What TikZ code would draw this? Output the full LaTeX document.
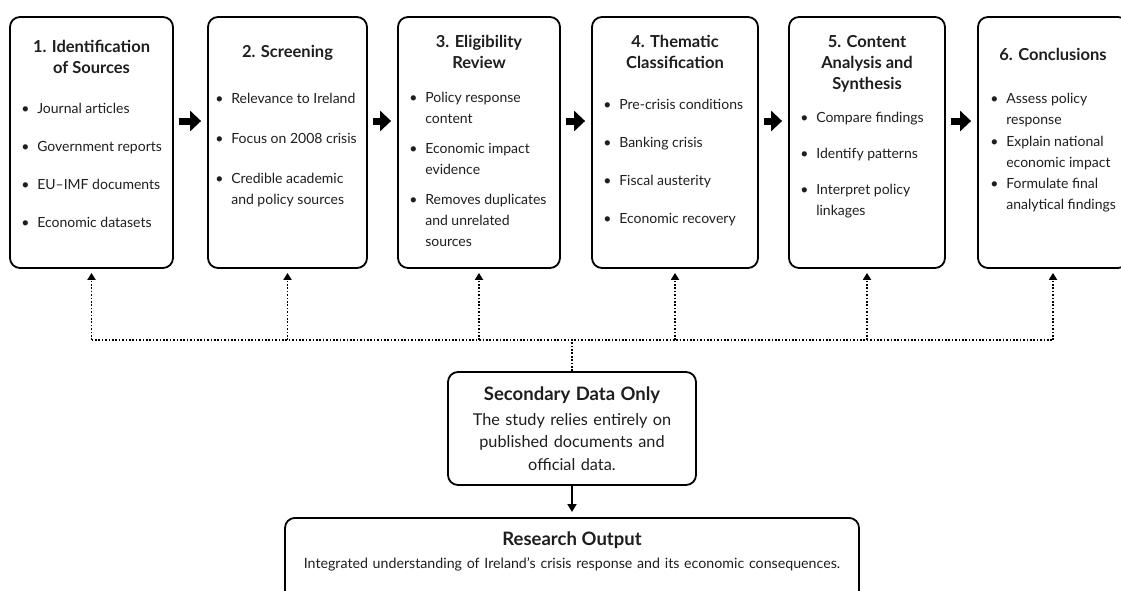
\documentclass[tikz,border=0pt]{standalone}
\usepackage{fontspec}
\setmainfont{Lato}
\usetikzlibrary{positioning,arrows.meta}

\definecolor{ink}{HTML}{1E1E1E}
\newcommand{\itm}{\makebox[16pt][l]{\textbullet}}

\tikzset{
  stage/.style={draw=black, line width=1.8pt, rounded corners=10pt, minimum height=251pt, inner sep=0pt},
  stagetitle/.style={font=\fontsize{16.5}{21}\selectfont\bfseries, align=center, inner sep=0pt, text=ink},
  stagelist/.style={font=\fontsize{14}{21}\selectfont, inner sep=0pt, text=ink},
  card/.style={draw=black, line width=1.8pt, rounded corners=10pt, inner sep=0pt},
  flow/.style={line width=7pt, -{Triangle[width=20pt,length=11pt]}},
  feed/.style={line width=1.7pt, dash pattern=on 1.7pt off 1.7pt},
}

\begin{document}
\begin{tikzpicture}[x=1pt,y=-1pt]
  \useasboundingbox (0,0) rectangle (1121,590);

  % six stages
  \foreach \n/\cx/\w in {1/91.5/163, 2/287.5/159, 3/479/162, 4/675/166, 5/867/156, 6/1053/150}
    \node[stage, minimum width=\w pt] (s\n) at (\cx,142.5) {};

  \node[stagetitle, below=24pt of s1.north] (h1) {1. Identification\\of Sources};
  \node[stagelist, anchor=north west] (l1) at ([xshift=12pt,yshift=-82pt]s1.north west) {%
    \begin{tabular}{@{}l@{}l@{}}
      \itm & Journal articles\\[17pt]
      \itm & Government reports\\[17pt]
      \itm & EU--IMF documents\\[17pt]
      \itm & Economic datasets
    \end{tabular}};

  \node[stagetitle, below=29pt of s2.north] (h2) {2. Screening};
  \node[stagelist, anchor=north west] (l2) at ([xshift=8pt,yshift=-72pt]s2.north west) {%
    \begin{tabular}{@{}l@{}l@{}}
      \itm & Relevance to Ireland\\[19pt]
      \itm & Focus on 2008 crisis\\[19pt]
      \itm & Credible academic\\
           & and policy sources
    \end{tabular}};

  \node[stagetitle, below=19pt of s3.north] (h3) {3. Eligibility\\Review};
  \node[stagelist, anchor=north west] (l3) at ([xshift=12pt,yshift=-71pt]s3.north west) {%
    \begin{tabular}{@{}l@{}l@{}}
      \itm & Policy response\\
           & content\\[9pt]
      \itm & Economic impact\\
           & evidence\\[9pt]
      \itm & Removes duplicates\\
           & and unrelated\\
           & sources
    \end{tabular}};

  \node[stagetitle, below=19pt of s4.north] (h4) {4. Thematic\\Classification};
  \node[stagelist, anchor=north west] (l4) at ([xshift=12pt,yshift=-78pt]s4.north west) {%
    \begin{tabular}{@{}l@{}l@{}}
      \itm & Pre-crisis conditions\\[17pt]
      \itm & Banking crisis\\[17pt]
      \itm & Fiscal austerity\\[17pt]
      \itm & Economic recovery
    \end{tabular}};

  \node[stagetitle, below=19pt of s5.north] (h5) {5. Content\\Analysis and\\Synthesis};
  \node[stagelist, anchor=north west] (l5) at ([xshift=12pt,yshift=-91pt]s5.north west) {%
    \begin{tabular}{@{}l@{}l@{}}
      \itm & Compare findings\\[15pt]
      \itm & Identify patterns\\[15pt]
      \itm & Interpret policy\\
           & linkages
    \end{tabular}};

  \node[stagetitle, below=32pt of s6.north] (h6) {6. Conclusions};
  \node[stagelist, anchor=north west] (l6) at ([xshift=13pt,yshift=-72pt]s6.north west) {%
    \begin{tabular}{@{}l@{}l@{}}
      \itm & Assess policy\\
           & response\\[1pt]
      \itm & Explain national\\
           & economic impact\\[0pt]
      \itm & Formulate final\\
           & analytical findings
    \end{tabular}};

  \foreach \a/\b in {1/2,2/3,3/4,4/5,5/6}
    \draw[flow] ([xshift=5pt,yshift=21.5pt]s\a.east) -- ([xshift=-6pt,yshift=21.5pt]s\b.west);

  % secondary data feeds every stage
  \node[card, minimum width=248pt, minimum height=113pt, text width=236pt, align=center,
        font=\fontsize{16.3}{22.5}\selectfont, text=ink] (sec) at (572,428.5)
    {{\fontsize{18.5}{22.5}\selectfont\bfseries Secondary Data Only\par}\vspace{2.5pt}
     The study relies entirely on\\published documents and\\official data.};

  \coordinate (bus) at (572,340);
  \draw[feed] (sec.north) -- (bus);
  \draw[feed] (s1.south |- bus) -- (s6.south |- bus);
  \foreach \n in {1,...,6}
    \draw[feed, -{Triangle[width=8pt,length=7pt]}, shorten >=4pt] (s\n.south |- bus) -- (s\n.south);

  \node[card, minimum width=574pt, minimum height=90pt, anchor=north] (out) at (572,517) {};
  \node[below=15pt of out.north, inner sep=0pt, text width=560pt, align=center,
        font=\fontsize{14.2}{23}\selectfont, text=ink] (outtxt)
    {{\fontsize{18.5}{23}\selectfont\bfseries Research Output\par}
     Integrated understanding of Ireland’s crisis response and its economic consequences.};

  \draw[line width=1.8pt, -{Triangle[width=9pt,length=8pt]}, shorten >=5pt] (sec.south) -- (out.north);
\end{tikzpicture}
\end{document}
